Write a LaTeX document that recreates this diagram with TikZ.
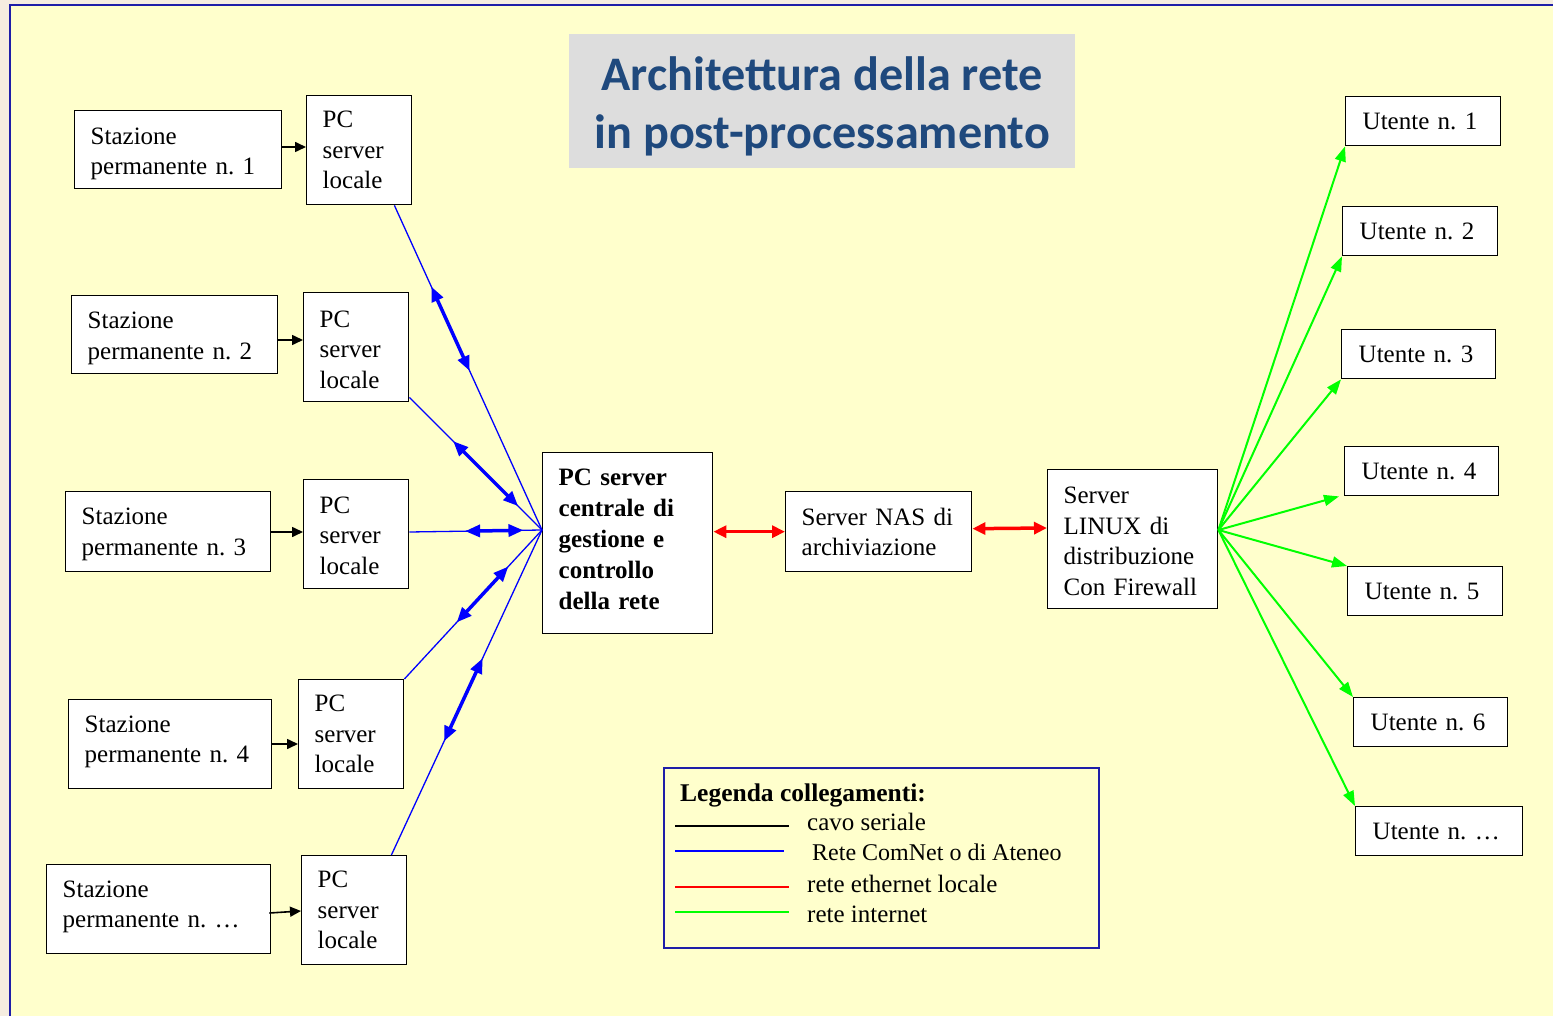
\documentclass[tikz,border=0pt]{standalone}
\usepackage{fontspec}
\setmainfont{Liberation Serif}
\newfontfamily\titlefont{Carlito}
\usetikzlibrary{arrows.meta,calc}
\frenchspacing

\definecolor{pagebg}{HTML}{F5EDE0}
\definecolor{panel}{HTML}{FFFFCC}
\definecolor{frameblue}{HTML}{1E1EA8}
\definecolor{titlegray}{HTML}{DDDDDD}
\definecolor{titleblue}{HTML}{1F497D}
\definecolor{netblue}{HTML}{0000FF}
\definecolor{netred}{HTML}{FF0000}
\definecolor{netgreen}{HTML}{00FF00}

\tikzset{
  box/.style={draw=black, fill=white, line width=1.4pt, inner xsep=16pt, inner ysep=0pt,
    align=left, anchor=north west, font=\fontsize{25}{30.5}\selectfont},
  % taller first line / deeper last line to nudge the text block inside a box
  textdown/.style={execute at begin node={\rule{0pt}{#1}}},
  textup/.style={execute at end node={\rule[-#1]{0pt}{#1}}},
  serial/.style={draw=black, line width=1.6pt, -{Triangle[length=11pt,width=10pt]}},
  comnet/.style={draw=netblue, line width=1.3pt},
  comnetthick/.style={draw=netblue, line width=3.5pt,
    {Triangle[length=15pt,width=12pt]}-{Triangle[length=15pt,width=12pt]}},
  ethernet/.style={draw=netred, line width=3.5pt,
    {Triangle[length=13pt,width=12pt]}-{Triangle[length=13pt,width=12pt]}},
  internet/.style={draw=netgreen, line width=2pt, -{Triangle[length=15pt,width=11pt]}},
  legtext/.style={anchor=west, inner sep=0pt, font=\fontsize{25}{30}\selectfont},
}

\begin{document}
\begin{tikzpicture}[x=1pt,y=-1pt]
\useasboundingbox (0,0) rectangle (1553,1016);
\clip (0,0) rectangle (1553,1016);

% page and framed panel
\fill[pagebg] (0,0) rectangle (1553,1016);
\draw[fill=panel, draw=frameblue, line width=2.5pt] (10,5) rectangle (1570,1030);

% title
\node[fill=titlegray, text=titleblue, anchor=north west, minimum width=506pt, minimum height=134pt,
  align=center, inner sep=0pt, font=\titlefont\bfseries\fontsize{48.2}{58}\selectfont]
  (title) at (569,34) {\rule{0pt}{45pt}Architettura della rete\\in post-processamento};

% permanent stations and local servers
\node[box, text width=175pt, minimum height=78pt, textdown=25pt]  (st1) at (74,110)  {Stazione\\permanente n. 1};
\node[box, text width=73pt,  minimum height=109pt] (pc1) at (306,95)  {PC\\server\\locale};
\node[box, text width=174pt, minimum height=78pt, textdown=24pt]  (st2) at (71,295)  {Stazione\\permanente n. 2};
\node[box, text width=73pt,  minimum height=109pt, textdown=21pt] (pc2) at (303,292) {PC\\server\\locale};
\node[box, text width=173pt, minimum height=80pt, textdown=22pt]  (st3) at (65,491)  {Stazione\\permanente n. 3};
\node[box, text width=73pt,  minimum height=109pt, textdown=19pt] (pc3) at (303,479) {PC\\server\\locale};
\node[box, text width=171pt, minimum height=89pt, textup=9.5pt]  (st4) at (68,699)  {Stazione\\permanente n. 4};
\node[box, text width=73pt,  minimum height=109pt] (pc4) at (298,679) {PC\\server\\locale};
\node[box, text width=192pt, minimum height=89pt, textup=9.5pt]  (st5) at (46,864)  {Stazione\\permanente n. \dots};
\node[box, text width=73pt,  minimum height=109pt] (pc5) at (301,855) {PC\\server\\locale};

% central chain
\node[box, text width=138pt, minimum height=181pt, textup=8pt, font=\bfseries\fontsize{25}{30.8}\selectfont]
  (central) at (542,452) {PC server\\centrale di\\gestione e\\controllo\\della rete};
\node[box, text width=154pt, minimum height=80pt]  (nas)   at (785,491)  {Server NAS di\\archiviazione};
\node[box, text width=138pt, minimum height=139pt, textdown=21pt] (linux) at (1047,469) {Server\\LINUX di\\distribuzione\\Con Firewall};

% users
\node[box, inner xsep=17pt, text width=121pt, minimum height=49pt] (u1) at (1345,96)  {Utente n. 1};
\node[box, inner xsep=17pt, text width=121pt, minimum height=49pt] (u2) at (1342,206) {Utente n. 2};
\node[box, inner xsep=17pt, text width=120pt, minimum height=49pt] (u3) at (1341,329) {Utente n. 3};
\node[box, inner xsep=17pt, text width=120pt, minimum height=49pt] (u4) at (1344,446) {Utente n. 4};
\node[box, inner xsep=17pt, text width=121pt, minimum height=49pt] (u5) at (1347,566) {Utente n. 5};
\node[box, inner xsep=17pt, text width=120pt, minimum height=49pt] (u6) at (1353,697) {Utente n. 6};
\node[box, inner xsep=17pt, text width=133pt, minimum height=49pt] (u7) at (1355,806) {Utente n. \dots};

% serial cables
\draw[serial] (st1.east |- 0,147) -- (pc1.west |- 0,147);
\draw[serial] (st2.east |- 0,340) -- (pc2.west |- 0,340);
\draw[serial] (st3.east |- 0,532) -- (pc3.west |- 0,532);
\draw[serial] (st4.east |- 0,744) -- (pc4.west |- 0,744);
\draw[serial] ([xshift=-2pt]st5.east |- 0,913) -- (pc5.west |- 0,911);

% ComNet / campus network links
\coordinate (hubL) at (central.west |- 0,530);
\coordinate (l1) at ([xshift=-18pt]pc1.south east);
\coordinate (l2) at ([yshift=5pt]pc2.south east);
\coordinate (l3) at (pc3.east |- 0,532);
\coordinate (l4) at (pc4.north east);
\coordinate (l5) at ([xshift=-16pt]pc5.north east);
\foreach \p in {l1,l2,l3,l4,l5} \draw[comnet] (\p) -- (hubL);
\draw[comnetthick] ($(l1)!0.25!(hubL)$) -- ($(l1)!0.51!(hubL)$);
\draw[comnetthick] ($(l2)!0.33!(hubL)$) -- ($(l2)!0.82!(hubL)$);
\draw[comnetthick] ($(l3)!0.42!(hubL)$) -- ($(l3)!0.86!(hubL)$);
\draw[comnetthick] ($(l4)!0.38!(hubL)$) -- ($(l4)!0.755!(hubL)$);
\draw[comnetthick] ($(l5)!0.35!(hubL)$) -- ($(l5)!0.605!(hubL)$);

% local ethernet
\draw[ethernet] (central.east |- nas.west) -- (nas.west);
\draw[ethernet] ([yshift=3pt]nas.east) -- (linux.west |- 0,528);

% internet distribution
\coordinate (hubR) at (linux.east |- 0,530);
\draw[internet] (hubR) -- (u1.south west);
\draw[internet] (hubR) -- (u2.south west);
\draw[internet] (hubR) -- (u3.south west);
\draw[internet] (hubR) -- ([xshift=-5pt]u4.south west);
\draw[internet] (hubR) -- (u5.north west);
\draw[internet] (hubR) -- (u6.north west);
\draw[internet] (hubR) -- (u7.north west);

% legend
\node[draw=frameblue, line width=1.8pt, anchor=north west, minimum width=435pt, minimum height=180pt,
  inner sep=0pt] (legend) at (663,767) {};
\node[legtext, font=\bfseries\fontsize{25.5}{30}\selectfont] (legtitle) at (680,795) {Legenda collegamenti:};
\draw[black, line width=1.5pt]    (675,826) -- (789,826);
\draw[netblue, line width=1.5pt]  (675,851) -- (784,851);
\draw[netred, line width=1.5pt]   (675,887) -- (789,887);
\draw[netgreen, line width=1.5pt] (675,912) -- (789,912);
\node[legtext] (lg1) at (807,822) {cavo seriale};
\node[legtext, font=\fontsize{24}{30}\selectfont] (lg2) at (812,852) {Rete ComNet o di Ateneo};
\node[legtext] (lg3) at (807,884) {rete ethernet locale};
\node[legtext] (lg4) at (807,914) {rete internet};
\end{tikzpicture}
\end{document}
